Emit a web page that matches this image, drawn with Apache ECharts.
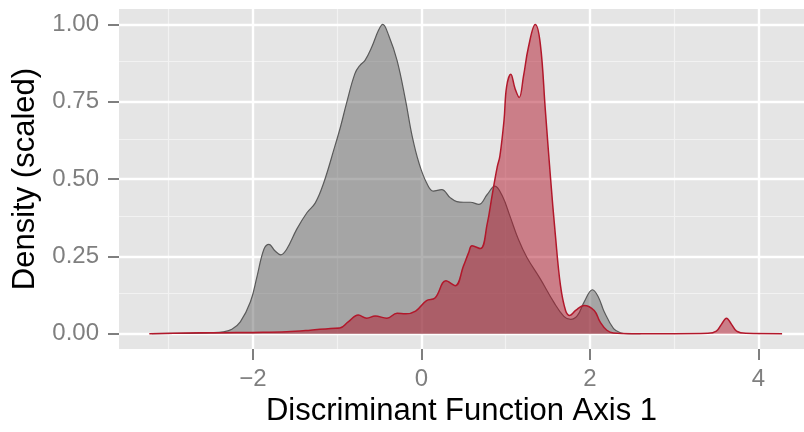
<!DOCTYPE html>
<html>
<head>
<meta charset="utf-8">
<script src="https://cdn.jsdelivr.net/npm/echarts@6/dist/echarts.min.js"></script>
<style>
html,body{margin:0;padding:0;background:#fff;}
#chart{width:804px;height:432px;}
</style>
</head>
<body>
<div id="chart"></div>
<script>
// density curves (x = discriminant score, y = scaled density)
var grayX = [-3.2, -2.8, -2.5, -2.35, -2.25, -2.15, -2.03, -1.95, -1.87, -1.81, -1.74, -1.67, -1.60, -1.48, -1.36, -1.26, -1.16, -1.04, -0.96, -0.89, -0.79, -0.73, -0.67, -0.59, -0.51, -0.46, -0.39, -0.29, -0.19, -0.11, -0.03, 0.06, 0.14, 0.24, 0.34, 0.42, 0.50, 0.58, 0.68, 0.78, 0.87, 0.96, 1.05, 1.15, 1.25, 1.41, 1.57, 1.69, 1.77, 1.85, 1.93, 2.03, 2.10, 2.17, 2.28, 2.36, 2.45, 2.6];
var grayY = [0, 0.001, 0.003, 0.006, 0.014, 0.038, 0.103, 0.187, 0.273, 0.289, 0.268, 0.255, 0.273, 0.338, 0.391, 0.423, 0.488, 0.595, 0.670, 0.745, 0.841, 0.868, 0.884, 0.927, 0.981, 1.0, 0.965, 0.884, 0.756, 0.638, 0.552, 0.488, 0.461, 0.466, 0.440, 0.427, 0.425, 0.425, 0.418, 0.450, 0.477, 0.445, 0.380, 0.305, 0.247, 0.177, 0.102, 0.056, 0.046, 0.058, 0.102, 0.142, 0.118, 0.070, 0.016, 0.003, 0.0, 0];

var redX = [-3.23, -2.8, -2.4, -2.0, -1.6, -1.32, -1.08, -0.97, -0.87, -0.75, -0.65, -0.55, -0.41, -0.29, -0.19, -0.07, 0.06, 0.16, 0.29, 0.40, 0.50, 0.56, 0.60, 0.70, 0.78, 0.84, 0.90, 0.93, 0.98, 1.01, 1.06, 1.11, 1.16, 1.21, 1.27, 1.35, 1.41, 1.47, 1.53, 1.59, 1.65, 1.71, 1.76, 1.83, 1.93, 2.05, 2.12, 2.20, 2.28, 2.5, 3.0, 3.4, 3.5, 3.56, 3.62, 3.68, 3.74, 3.85, 4.28];
var redY = [0, 0.002, 0.003, 0.004, 0.006, 0.011, 0.017, 0.018, 0.038, 0.060, 0.050, 0.057, 0.050, 0.066, 0.064, 0.073, 0.107, 0.115, 0.171, 0.155, 0.220, 0.262, 0.284, 0.275, 0.355, 0.45, 0.54, 0.573, 0.691, 0.798, 0.839, 0.793, 0.764, 0.831, 0.927, 1.0, 0.938, 0.723, 0.509, 0.316, 0.155, 0.075, 0.059, 0.075, 0.091, 0.075, 0.038, 0.011, 0.002, 0, 0, 0.001, 0.008, 0.03, 0.05, 0.03, 0.008, 0.001, 0];

var xTicks = [-2, 0, 2, 4];
var xMinor = [-3, -1, 1, 3];
var yTicks = [0, 0.25, 0.5, 0.75, 1];
var yMinor = [0.125, 0.375, 0.625, 0.875];

function pairs(xs, ys) {
	var out = [];
	for (var i = 0; i < xs.length; i++) out.push([xs[i], ys[i]]);
	return out;
}

var gridLines = [];
xMinor.forEach(function (v) { gridLines.push({xAxis: v, lineStyle: {color: '#F2F2F2', width: 1.2, type: 'solid'}}); });
yMinor.forEach(function (v) { gridLines.push({yAxis: v, lineStyle: {color: '#F2F2F2', width: 1.2, type: 'solid'}}); });
xTicks.forEach(function (v) { gridLines.push({xAxis: v, lineStyle: {color: '#FFFFFF', width: 2.4, type: 'solid'}}); });
yTicks.forEach(function (v) { gridLines.push({yAxis: v, lineStyle: {color: '#FFFFFF', width: 2.4, type: 'solid'}}); });

var chart = echarts.init(document.getElementById('chart'));
var option = {
	animation: false,
	backgroundColor: '#FFFFFF',
	grid: {
		left: 119, right: 0, top: 9, bottom: 81,
		show: true, backgroundColor: '#E5E5E5', borderWidth: 0
	},
	xAxis: {
		type: 'value',
		min: -3.59, max: 4.54,
		name: 'Discriminant Function Axis 1',
		nameLocation: 'middle',
		nameGap: 43,
		nameTextStyle: {color: '#000', fontSize: 31, fontFamily: 'Liberation Sans'},
		axisLine: {show: false, onZero: false},
		axisTick: {show: true, customValues: xTicks, length: 11, lineStyle: {color: '#7F7F7F', width: 2}},
		axisLabel: {
			customValues: xTicks, margin: 18,
			color: '#7F7F7F', fontSize: 24, fontFamily: 'Liberation Sans',
			formatter: function (v) { return v < 0 ? '\u2212' + Math.abs(v) : String(v); }
		},
		splitLine: {show: false}
	},
	yAxis: {
		type: 'value',
		min: -0.05, max: 1.05,
		name: 'Density (scaled)',
		nameLocation: 'middle',
		nameGap: 73,
		nameTextStyle: {color: '#000', fontSize: 31, fontFamily: 'Liberation Sans'},
		axisLine: {show: false, onZero: false},
		axisTick: {show: true, customValues: yTicks, length: 11, lineStyle: {color: '#7F7F7F', width: 2}},
		axisLabel: {
			customValues: yTicks, margin: 20,
			color: '#7F7F7F', fontSize: 24, fontFamily: 'Liberation Sans',
			formatter: function (v) { return v.toFixed(2); }
		},
		splitLine: {show: false}
	},
	series: [
		{
			// background grid lines
			type: 'line', data: [], z: 1, silent: true,
			markLine: {silent: true, symbol: ['none', 'none'], label: {show: false}, data: gridLines}
		},
		{
			name: 'group 1', type: 'line', zlevel: 1, z: 3,
			data: pairs(grayX, grayY),
			smooth: 0.4, showSymbol: false,
			lineStyle: {color: '#5A5A5A', width: 1.2},
			areaStyle: {color: 'rgba(102,102,102,0.5)', opacity: 1}
		},
		{
			name: 'group 2', type: 'line', zlevel: 1, z: 4,
			data: pairs(redX, redY),
			smooth: 0.4, showSymbol: false,
			lineStyle: {color: '#B2182B', width: 1.5},
			areaStyle: {color: 'rgba(178,24,43,0.5)', opacity: 1}
		}
	]
};
chart.setOption(option);
</script>
</body>
</html>
